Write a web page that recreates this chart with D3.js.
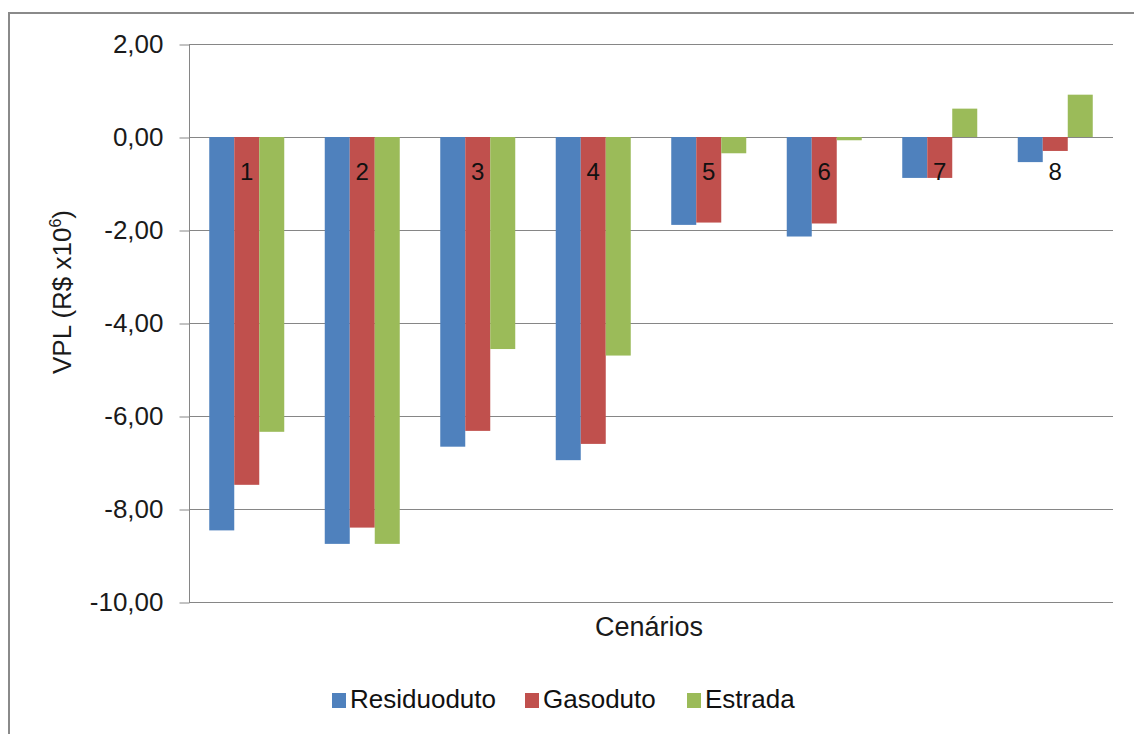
<!DOCTYPE html>
<html><head><meta charset="utf-8">
<script src="https://cdn.jsdelivr.net/npm/d3@7"></script>
<style>body{margin:0;background:#fff}svg{display:block;font-family:"Liberation Sans",Arial,sans-serif}</style>
</head><body>
<script>
const categories = ["1","2","3","4","5","6","7","8"];
const seriesNames = ["Residuoduto","Gasoduto","Estrada"];
const residuoduto = [-8.46,-8.75,-6.66,-6.95,-1.89,-2.14,-0.88,-0.54];
const gasoduto = [-7.48,-8.40,-6.32,-6.60,-1.84,-1.86,-0.88,-0.30];
const estrada = [-6.34,-8.75,-4.56,-4.70,-0.35,-0.07,0.61,0.91];
const yTicks = [2,0,-2,-4,-6,-8,-10];
const colors = ["#4F81BD","#C0504D","#9BBB59"];
const seriesValues = [residuoduto, gasoduto, estrada];

(function(){
const W=1134,H=734;
const svg=d3.select("body").append("svg").attr("width",W).attr("height",H);
svg.append("rect").attr("width",W).attr("height",H).attr("fill","#fff");
svg.append("rect").attr("x",9).attr("y",13).attr("width",W).attr("height",H)
  .attr("fill","none").attr("stroke","#8a8a8a").attr("stroke-width",2);

const pL=189,pR=1113,pT=44,pB=602;
const y=d3.scaleLinear().domain([-10,2]).range([pB,pT]);
const x=d3.scaleBand().domain(categories).range([pL,pR]).padding(0);
const xs=d3.scaleBand().domain(seriesNames).range([0,x.bandwidth()]).paddingInner(0).paddingOuter(0.81);
const loc=d3.formatLocale({decimal:",",thousands:".",grouping:[3],currency:["R$",""],minus:"-"});
const fmt=loc.format(".2f");

// gridlines
svg.append("g").selectAll("line").data(yTicks).join("line")
  .attr("x1",pL).attr("x2",pR).attr("y1",d=>Math.round(y(d))+0.5).attr("y2",d=>Math.round(y(d))+0.5)
  .attr("stroke","#868686").attr("stroke-width",1);

// y axis
const yAxis=d3.axisLeft(y).tickValues(yTicks).tickFormat(fmt).tickSize(10).tickPadding(16);
const ga=svg.append("g").attr("transform",`translate(${pL+0.5},0.5)`).call(yAxis);
ga.select(".domain").attr("stroke","#868686").attr("d",`M0,${pT}V${pB}`);
ga.selectAll(".tick line").attr("stroke","#868686");
ga.selectAll(".tick text").attr("font-size",26).attr("fill","#1a1a1a").attr("font-family","'Liberation Sans',Arial,sans-serif");

// bars
seriesValues.forEach((vals,si)=>{
  svg.append("g").selectAll("rect").data(vals).join("rect")
    .attr("x",(d,i)=>x(categories[i])+xs(seriesNames[si]))
    .attr("width",xs.bandwidth())
    .attr("y",d=>y(Math.max(0,d)))
    .attr("height",d=>Math.abs(y(d)-y(0)))
    .attr("fill",colors[si]);
});

// category labels
svg.append("g").selectAll("text").data(categories).join("text")
  .attr("x",d=>x(d)+x.bandwidth()/2).attr("y",y(0)+43)
  .attr("text-anchor","middle").attr("font-size",24).attr("fill","#111").text(d=>d);

// axis titles
const yt=svg.append("text").attr("transform","translate(71,292) rotate(-90)")
  .attr("text-anchor","middle").attr("font-size",26).attr("fill","#1a1a1a");
yt.append("tspan").text("VPL (R$ x10");
yt.append("tspan").attr("font-size",16).attr("dy",-10).text("6");
yt.append("tspan").attr("dy",10).text(")");
svg.append("text").attr("x",649).attr("y",636).attr("text-anchor","middle")
  .attr("font-size",27).attr("fill","#1a1a1a").text("Cenários");

// legend
const legX=[332,525,687];
const lg=svg.append("g").selectAll("g").data(seriesNames).join("g")
  .attr("transform",(d,i)=>`translate(${legX[i]},0)`);
lg.append("rect").attr("x",0).attr("y",693).attr("width",14).attr("height",15).attr("fill",(d,i)=>colors[i]);
lg.append("text").attr("x",18).attr("y",708).attr("font-size",26).attr("fill","#111").text(d=>d);
})();
</script>
</body></html>
